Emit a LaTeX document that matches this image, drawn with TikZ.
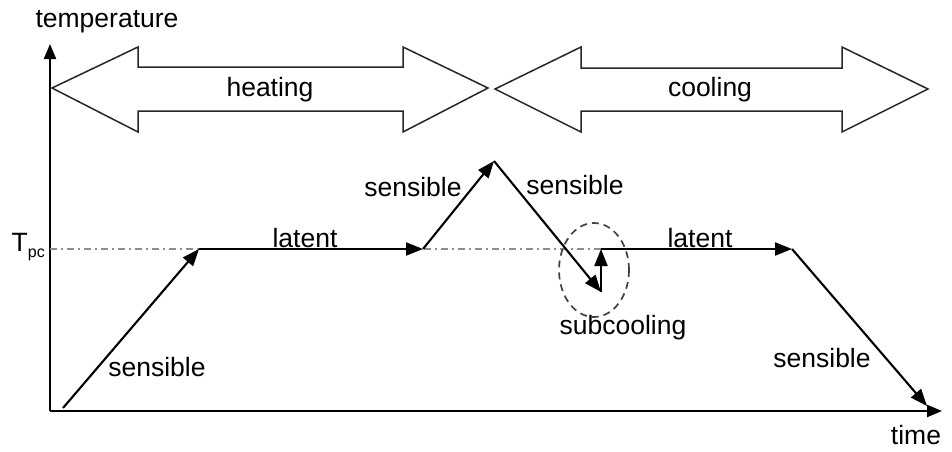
\documentclass[tikz,border=0pt]{standalone}
\usepackage{fontspec}
\setmainfont{Liberation Sans}
\usetikzlibrary{arrows.meta}
\begin{document}
\begin{tikzpicture}[x=1pt,y=-1pt,
  lbl/.style={font=\fontsize{26.5}{30}\selectfont, inner sep=0pt},
  axis/.style={line width=2.2pt, -{Triangle[length=15pt,width=12pt]}},
  flow/.style={line width=2.1pt, -{Triangle[length=17pt,width=13pt]}},
  bigarrow/.style={draw=black!85, line width=1.5pt, fill=white, line join=miter},
  ref/.style={draw=black!45, line width=1.6pt, dash pattern=on 7pt off 4pt on 2pt off 4pt},
  ring/.style={draw=black!75, line width=1.7pt, dash pattern=on 7pt off 5pt}]
\useasboundingbox (0,0) rectangle (952,451);

% axes
\coordinate (O) at (50,411);
\coordinate (ytop) at (50,44);
\coordinate (xend) at (942,411);
\draw[axis] (O) -- (ytop);
\draw[axis] (O) -- (xend);
\node[lbl] (tlabel) at (107,22) {temperature};
\node[lbl] (timelabel) at (916,435) {time};

% reference temperature line
\coordinate (r0) at (50,249);
\coordinate (r1) at (608,249);
\draw[ref] (r0) -- (r1);
\node[lbl, anchor=east] (tpc) at (45,247) {T\raisebox{-0.45ex}{\fontsize{16}{17}\selectfont pc}};

% heating / cooling double arrows
\draw[bigarrow] (52,88) -- (138,47) -- (138,67) -- (403,67) -- (403,47) -- (488,88)
  -- (403,132) -- (403,111) -- (138,111) -- (138,132) -- cycle;
\node[lbl] (heat) at (270,90) {heating};
\draw[bigarrow] (495,89) -- (581,47) -- (581,68) -- (842,68) -- (842,47) -- (928,89)
  -- (842,132) -- (842,111) -- (581,111) -- (581,132) -- cycle;
\node[lbl] (cool) at (710,90) {cooling};

% temperature history
\coordinate (p0) at (63,408);
\coordinate (p1) at (199,249);
\coordinate (p2) at (423,249);
\coordinate (p3) at (494,161);
\coordinate (p4) at (601,292);
\coordinate (p5) at (601,249);
\coordinate (p6) at (792,249);
\coordinate (p7) at (927,406);
\draw[flow] (p0) -- (p1);
\draw[flow] (p1) -- (p2);
\draw[flow] (p2) -- (p3);
\draw[flow] (p3) -- (p4);
\draw[flow] (p4) -- (p5);
\draw[flow] (p5) -- (p6);
\draw[flow] (p6) -- (p7);

% subcooling marker
\draw[ring] (594,270) ellipse [x radius=35, y radius=47];

% labels
\node[lbl] (s1) at (157,367) {sensible};
\node[lbl] (l1) at (305,238) {latent};
\node[lbl] (s2) at (413,187) {sensible};
\node[lbl] (s3) at (575,185) {sensible};
\node[lbl] (sc) at (623,328) {subcooling};
\node[lbl] (l2) at (700,238) {latent};
\node[lbl] (s4) at (822,358) {sensible};
\end{tikzpicture}
\end{document}
